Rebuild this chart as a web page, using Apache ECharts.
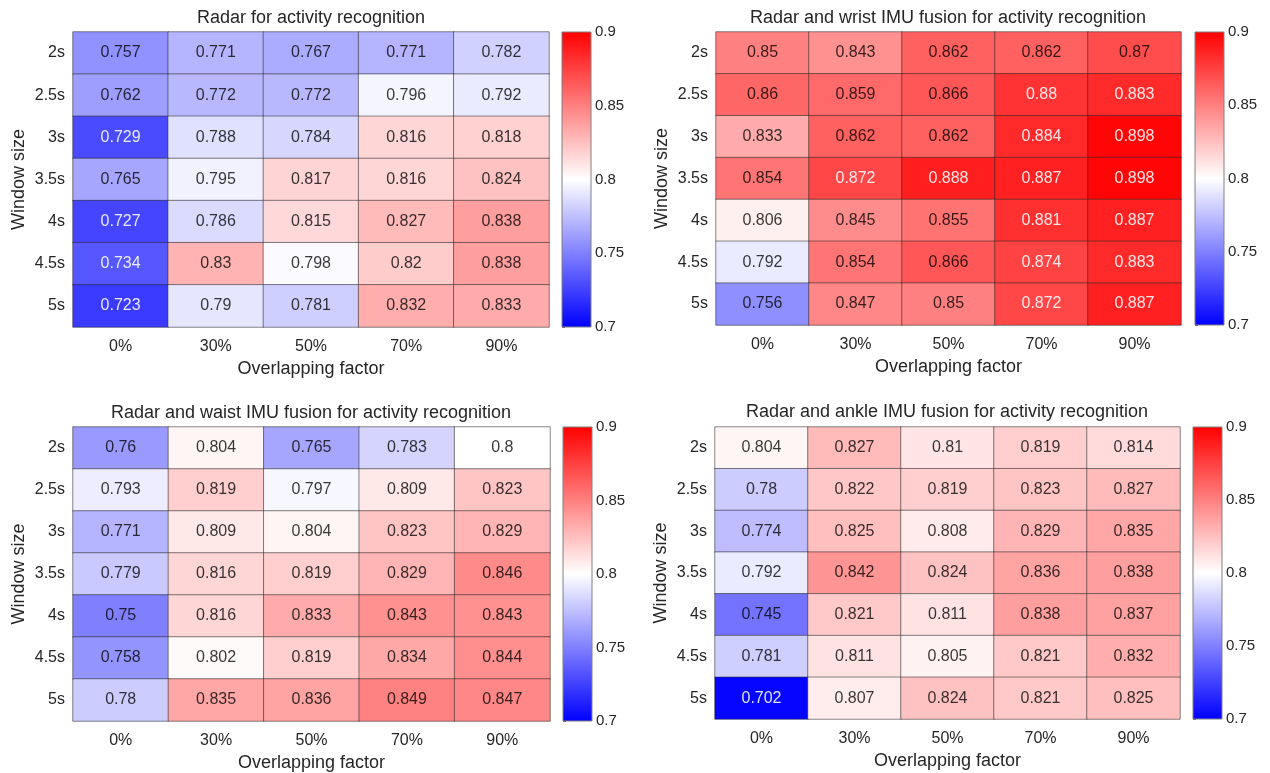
<!DOCTYPE html>
<html>
<head>
<meta charset="utf-8">
<script src="https://cdn.jsdelivr.net/npm/echarts@6/dist/echarts.min.js"></script>
<style>html,body{margin:0;padding:0;background:#fff}#c{width:1270px;height:773px}</style>
</head>
<body>
<div id="c"></div>
<script>
const windows = ['2s','2.5s','3s','3.5s','4s','4.5s','5s'];
const overlaps = ['0%','30%','50%','70%','90%'];
const titles = [
  'Radar for activity recognition',
  'Radar and wrist IMU fusion for activity recognition',
  'Radar and waist IMU fusion for activity recognition',
  'Radar and ankle IMU fusion for activity recognition'
];
// rows = window sizes (2s..5s), columns = overlapping factors (0%..90%)
const radar = [
  [0.757,0.771,0.767,0.771,0.782],
  [0.762,0.772,0.772,0.796,0.792],
  [0.729,0.788,0.784,0.816,0.818],
  [0.765,0.795,0.817,0.816,0.824],
  [0.727,0.786,0.815,0.827,0.838],
  [0.734,0.83,0.798,0.82,0.838],
  [0.723,0.79,0.781,0.832,0.833]
];
const wrist = [
  [0.85,0.843,0.862,0.862,0.87],
  [0.86,0.859,0.866,0.88,0.883],
  [0.833,0.862,0.862,0.884,0.898],
  [0.854,0.872,0.888,0.887,0.898],
  [0.806,0.845,0.855,0.881,0.887],
  [0.792,0.854,0.866,0.874,0.883],
  [0.756,0.847,0.85,0.872,0.887]
];
const waist = [
  [0.76,0.804,0.765,0.783,0.8],
  [0.793,0.819,0.797,0.809,0.823],
  [0.771,0.809,0.804,0.823,0.829],
  [0.779,0.816,0.819,0.829,0.846],
  [0.75,0.816,0.833,0.843,0.843],
  [0.758,0.802,0.819,0.834,0.844],
  [0.78,0.835,0.836,0.849,0.847]
];
const ankle = [
  [0.804,0.827,0.81,0.819,0.814],
  [0.78,0.822,0.819,0.823,0.827],
  [0.774,0.825,0.808,0.829,0.835],
  [0.792,0.842,0.824,0.836,0.838],
  [0.745,0.821,0.811,0.838,0.837],
  [0.781,0.811,0.805,0.821,0.832],
  [0.702,0.807,0.824,0.821,0.825]
];
const colorTicks = [0.7,0.75,0.8,0.85,0.9];

const matrices = [radar, wrist, waist, ankle];
const cMin = colorTicks[0], cMax = colorTicks[colorTicks.length-1], cMid = (cMin+cMax)/2;

function textColor(v){
  let L;
  if (v <= cMid){ const t = (v-cMin)/(cMid-cMin); L = 0.0722 + 0.9278*t; }
  else { const s = (cMax-v)/(cMax-cMid); L = 0.2126 + 0.7874*s; }
  return L < 0.44 ? 'rgba(255,255,255,0.88)' : 'rgba(0,0,0,0.78)';
}

const FONT = 'Liberation Sans, Arial, sans-serif';
const panels = [
  {grid:{left:73,top:32,width:476,height:295}, bar:{left:562,top:32,width:29,height:295}, titleX:311, titleY:9},
  {grid:{left:716,top:32,width:465,height:293}, bar:{left:1195,top:32,width:29,height:293}, titleX:948, titleY:9},
  {grid:{left:73,top:427,width:477,height:294}, bar:{left:563,top:427,width:29,height:294}, titleX:311, titleY:404},
  {grid:{left:715,top:427,width:465,height:292}, bar:{left:1193,top:427,width:29,height:292}, titleX:947, titleY:403}
];

const option = {
  animation:false,
  textStyle:{fontFamily:FONT},
  title:[], grid:[], xAxis:[], yAxis:[], series:[],
  visualMap:{
    type:'continuous', show:false, min:cMin, max:cMax, dimension:2,
    seriesIndex:[0,1,2,3],
    inRange:{color:['#0000ff','#ffffff','#ff0000']}
  }
};

panels.forEach((p,i)=>{
  option.title.push({
    text:titles[i], left:p.titleX, top:p.titleY, textAlign:'center', padding:0,
    textStyle:{fontSize:18, fontWeight:'normal', color:'#262626', fontFamily:FONT}
  });
  option.grid.push(Object.assign({containLabel:false}, p.grid));
});
panels.forEach((p,i)=>{
  option.grid.push(Object.assign({containLabel:false}, p.bar));
});

// heatmap axes
panels.forEach((p,i)=>{
  option.xAxis.push({
    type:'category', data:overlaps, gridIndex:i,
    name:'Overlapping factor', nameLocation:'middle', nameGap:33,
    nameTextStyle:{fontSize:18, color:'#262626'},
    axisLine:{show:false}, axisTick:{show:false}, splitLine:{show:false},
    axisLabel:{fontSize:16, color:'#262626', margin:12}
  });
  option.yAxis.push({
    type:'category', data:windows, gridIndex:i, inverse:true,
    name:'Window size', nameLocation:'middle', nameGap:45,
    nameTextStyle:{fontSize:18, color:'#262626'},
    axisLine:{show:false}, axisTick:{show:false}, splitLine:{show:false},
    axisLabel:{fontSize:16, color:'#262626', margin:8}
  });
});
// colorbar axes
panels.forEach((p,i)=>{
  option.xAxis.push({type:'value', gridIndex:4+i, min:0, max:1, show:false});
  option.yAxis.push({
    type:'value', gridIndex:4+i, min:cMin, max:cMax, interval:colorTicks[1]-colorTicks[0],
    position:'right',
    axisLine:{show:false},
    axisTick:{show:true, inside:false, length:3, lineStyle:{color:'#666'}},
    splitLine:{show:false},
    axisLabel:{fontSize:15, color:'#262626', margin:4, formatter:v=>String(+v.toFixed(2))}
  });
});

matrices.forEach((m,i)=>{
  const data = [];
  m.forEach((row,r)=>row.forEach((v,c)=>{
    data.push({value:[c,r,v], label:{color:textColor(v)}});
  }));
  option.series.push({
    type:'heatmap', xAxisIndex:i, yAxisIndex:i, data:data,
    label:{show:true, fontSize:16, fontFamily:FONT, formatter:p=>String(p.value[2])},
    itemStyle:{borderColor:'rgba(40,40,40,0.55)', borderWidth:1},
    emphasis:{disabled:true}
  });
});

panels.forEach((p,i)=>{
  option.series.push({
    type:'custom', xAxisIndex:4+i, yAxisIndex:4+i, silent:true,
    data:[[0, cMin]],
    renderItem:function(params, api){
      const p0 = api.coord([0, cMin]);
      const p1 = api.coord([1, cMax]);
      return {
        type:'rect',
        shape:{x:p0[0], y:p1[1], width:p1[0]-p0[0], height:p0[1]-p1[1]},
        style:{
          fill:new echarts.graphic.LinearGradient(0,1,0,0,[
            {offset:0,color:'#0000ff'},{offset:0.5,color:'#ffffff'},{offset:1,color:'#ff0000'}
          ]),
          stroke:'#808080', lineWidth:1
        }
      };
    }
  });
});

const chart = echarts.init(document.getElementById('c'), null, {renderer:'canvas'});
chart.setOption(option);
</script>
</body>
</html>
